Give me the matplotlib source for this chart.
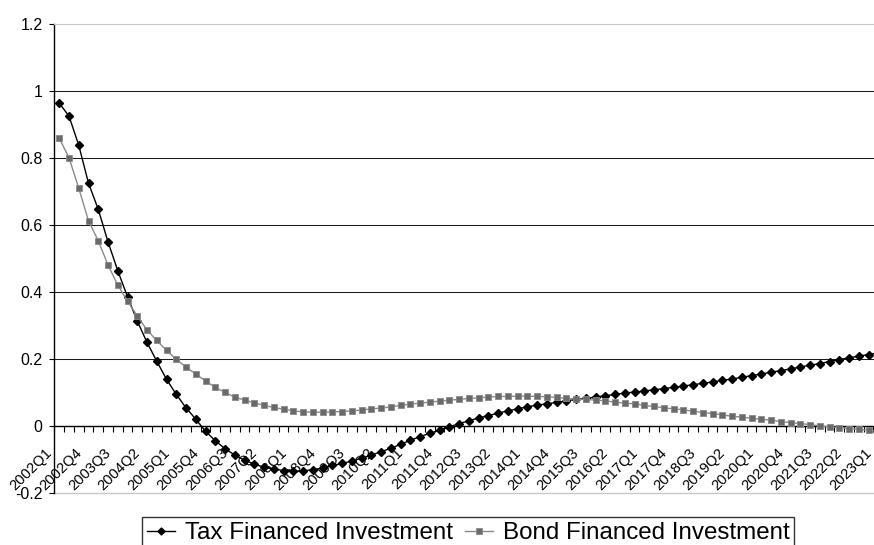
import matplotlib
matplotlib.use("Agg")
import matplotlib.pyplot as plt
import matplotlib.transforms as mtransforms
import numpy as np

plt.rcParams["font.family"] = ["Liberation Sans", "DejaVu Sans"]

# ---------------------------------------------------------------------------
# Data
# ---------------------------------------------------------------------------

quarters = [f"{y}Q{q}" for y in range(2002, 2024) for q in range(1, 5)][:85]

tax_financed = [
    0.964, 0.925, 0.838, 0.725, 0.647, 0.550, 0.464, 0.386, 0.314, 0.250,
    0.194, 0.140, 0.095, 0.055, 0.021, -0.015, -0.043, -0.067, -0.086, -0.101,
    -0.113, -0.122, -0.128, -0.132, -0.134, -0.133, -0.130, -0.124, -0.117, -0.111,
    -0.104, -0.095, -0.086, -0.076, -0.066, -0.054, -0.042, -0.031, -0.021, -0.012,
    -0.002, 0.008, 0.016, 0.025, 0.032, 0.039, 0.046, 0.052, 0.058, 0.063,
    0.067, 0.071, 0.076, 0.080, 0.083, 0.087, 0.091, 0.095, 0.099, 0.102,
    0.105, 0.109, 0.112, 0.116, 0.120, 0.124, 0.128, 0.132, 0.137, 0.141,
    0.146, 0.151, 0.156, 0.161, 0.166, 0.171, 0.177, 0.182, 0.187, 0.193,
    0.199, 0.204, 0.209, 0.214, 0.219,
]

bond_financed = [
    0.859, 0.801, 0.710, 0.613, 0.553, 0.481, 0.421, 0.373, 0.329, 0.287,
    0.256, 0.226, 0.200, 0.176, 0.156, 0.135, 0.116, 0.101, 0.087, 0.078,
    0.070, 0.062, 0.056, 0.051, 0.046, 0.043, 0.042, 0.042, 0.043, 0.044,
    0.046, 0.048, 0.052, 0.054, 0.058, 0.062, 0.066, 0.069, 0.072, 0.075,
    0.078, 0.080, 0.083, 0.085, 0.087, 0.089, 0.089, 0.090, 0.090, 0.089,
    0.088, 0.086, 0.083, 0.081, 0.080, 0.078, 0.076, 0.072, 0.069, 0.067,
    0.062, 0.059, 0.055, 0.052, 0.049, 0.045, 0.041, 0.038, 0.034, 0.030,
    0.027, 0.024, 0.021, 0.018, 0.014, 0.011, 0.008, 0.005, 0.001, -0.002,
    -0.004, -0.007, -0.009, -0.012, -0.015,
]

y_ticks = [-0.2, 0.0, 0.2, 0.4, 0.6, 0.8, 1.0, 1.2]
label_step = 3

# ---------------------------------------------------------------------------
# Figure
# ---------------------------------------------------------------------------

W, H = 874, 545
fig = plt.figure(figsize=(W / 100, H / 100), dpi=100)
# plot area runs slightly past the right edge (reference is cropped there)
ax = fig.add_axes([54.4 / W, 1 - 493.3 / H, 828.75 / W, (493.3 - 24) / H])

x = np.arange(len(quarters))

# inner gridlines, plot-area border lines
for v in y_ticks:
    if -0.2 < v < 1.2 and v != 0:
        ax.axhline(v, color="#1a1a1a", lw=0.75, zorder=1)
ax.axhline(-0.2, color="#c8c8c8", lw=1.0, zorder=1, clip_on=False)

ax.plot(x, tax_financed, color="black", lw=1.0, marker="D", ms=4.2,
        mfc="black", mec="black", label="Tax Financed Investment", zorder=3)
ax.plot(x, bond_financed, color="#8a8a8a", lw=1.0, marker="s", ms=4.6,
        mfc="#6a6a6a", mec="#8a8a8a", mew=0.6,
        label="Bond Financed Investment", zorder=4)

ax.set_xlim(-0.5, len(quarters) - 0.5)
ax.set_ylim(-0.2, 1.2)

# axes styling
ax.spines["bottom"].set_position(("data", 0))
ax.spines["bottom"].set_color("black")
ax.spines["bottom"].set_linewidth(1.0)
ax.spines["left"].set_color("black")
ax.spines["left"].set_linewidth(1.0)
ax.spines["top"].set_color("#c8c8c8")
ax.spines["right"].set_visible(False)

ax.set_yticks(y_ticks)
ax.set_yticklabels([f"{v:g}" for v in y_ticks])
ax.tick_params(axis="y", direction="out", length=3.6, width=0.8, pad=5,
               labelsize=11.5, colors="black")

ax.set_xticks([])
ax.set_xticks(np.arange(len(quarters) + 1) - 0.5, minor=True)
ax.tick_params(axis="x", which="minor", direction="out", length=4.2, width=0.8)

# rotated category labels, every third quarter
offset = mtransforms.ScaledTranslation(-9.0 / 100, -24.5 / 100, fig.dpi_scale_trans)
for i in range(0, len(quarters), label_step):
    ax.text(x[i], 0, quarters[i], transform=ax.transData + offset,
            rotation=45, rotation_mode="anchor", ha="right", va="center",
            fontsize=10.6, clip_on=False)

leg = fig.legend(loc="upper center", bbox_to_anchor=(468 / W, 1 - 517.3 / H),
                 ncol=2, fontsize=17.4, frameon=True, fancybox=False,
                 edgecolor="black", borderpad=0.2, handlelength=1.17,
                 handletextpad=0.4, columnspacing=0.5, borderaxespad=0,
                 markerscale=0.85)
leg.get_frame().set_linewidth(1.0)

fig.savefig("out.png", dpi=100)
